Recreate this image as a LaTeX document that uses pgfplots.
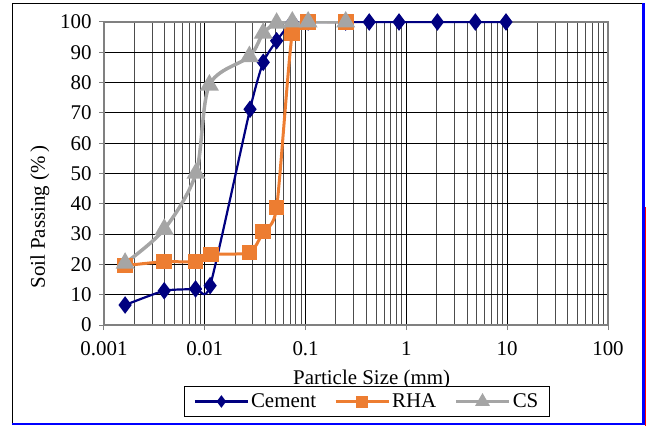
\documentclass[border=0pt]{standalone}
\usepackage{fontspec}
\setmainfont{Liberation Serif}
\usepackage{pgfplots}
\pgfplotsset{compat=1.18}
\definecolor{cem}{RGB}{0,0,128}
\definecolor{rha}{RGB}{237,125,49}
\definecolor{cs}{RGB}{165,165,165}
\begin{document}
\begin{tikzpicture}
\begin{axis}[
  scale only axis, width=504bp, height=303bp,
  xmode=log, xmin=0.001, xmax=100, ymin=0, ymax=100,
  ytick={0,10,...,100},
  xtick={0.001,0.01,0.1,1,10,100},
  xticklabels={0.001,0.01,0.1,1,10,100},
  grid=both,
  major grid style={black, line width=0.9bp},
  minor grid style={black!70, line width=0.9bp},
  axis line style={gray, line width=1.4bp},
  tick align=outside, major tick length=5bp, minor tick length=0pt,
  tick style={gray, line width=1bp},
  xtick pos=bottom, ytick pos=left,
  font=\fontsize{21}{25}\selectfont,
  /pgf/number format/assume math mode=true,
  xticklabel style={yshift=-8bp},
  yticklabel style={xshift=-4bp},
  xlabel={Particle Size (mm)},
  ylabel={Soil Passing (\%\,)},
  xlabel style={at={(axis description cs:0.531,-0.138)}, anchor=north},
  ylabel style={at={(axis description cs:-0.127,0.356)}, anchor=center},
  legend columns=3,
  legend style={at={(axis description cs:0.522,-0.2525)}, anchor=center,
    draw=black, line width=1bp, inner xsep=9bp, inner ysep=5.5bp,
    font=\fontsize{21}{25}\selectfont,
    nodes={inner xsep=2bp, inner ysep=2bp},
    /tikz/every odd column/.append style={column sep=0bp},
    /tikz/every even column/.append style={column sep=16bp}},
  legend image code/.code={\draw[mark repeat=2,mark phase=2] plot coordinates {(0bp,0bp) (26.5bp,0bp) (53bp,0bp)};},
]
\coordinate (ll) at (rel axis cs:0,0);
\addplot[cem, line width=2.2bp, smooth, tension=0.35, mark=diamond*, mark size=7bp,
  legend image post style={mark size=4.5bp}] coordinates {
(0.00162,6.6) (0.00396,11.3) (0.0081,11.9) (0.0113,13.0) (0.0281,71.2) (0.038,86.7) (0.0516,93.8) (0.0738,100) (0.106,100) (0.25,100) (0.428,100) (0.845,100) (2.03,100) (4.83,100) (9.73,100)};
\addlegendentry{Cement}
\addplot[rha, line width=3bp, smooth, tension=0.4, mark=square*, mark size=6.3bp,
  legend image post style={mark size=4.5bp}] coordinates {
(0.00162,19.6) (0.00396,20.9) (0.0081,20.9) (0.0115,23.3) (0.0277,23.9) (0.038,30.8) (0.0516,38.8) (0.0738,96.3) (0.106,100) (0.25,100)};
\addlegendentry{RHA}
\addplot[cs, line width=3.5bp, smooth, tension=0.5, mark=triangle*, mark size=7.5bp,
  legend image post style={mark size=5bp}] coordinates {
(0.00162,20.4) (0.00396,31.6) (0.00818,50.1) (0.0111,79.2) (0.0277,88.6) (0.038,96.3) (0.0516,99.6) (0.0738,100) (0.106,100) (0.25,100)};
\addlegendentry{CS}
\end{axis}
\path[use as bounding box] ([shift={(-104bp,-101bp)}]ll) rectangle ([shift={(542bp,325bp)}]ll);
\draw[black, line width=1bp] ([shift={(-91bp,-98.5bp)}]ll) -- ([shift={(-91bp,321bp)}]ll) -- ([shift={(539.5bp,321bp)}]ll);
\draw[blue, line width=2.2bp] ([shift={(-91.5bp,-99bp)}]ll) -- ([shift={(539.5bp,-99bp)}]ll) -- ([shift={(539.5bp,321.5bp)}]ll);
\draw[red, line width=1bp] ([shift={(541.5bp,118bp)}]ll) -- ([shift={(541.5bp,-101bp)}]ll);
\end{tikzpicture}
\end{document}
